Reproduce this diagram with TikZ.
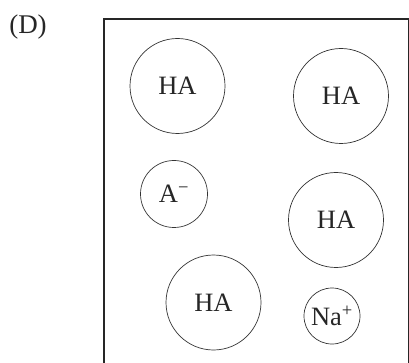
\documentclass[tikz,border=0pt]{standalone}
\usepackage{fontspec}
\setmainfont{Liberation Serif}

\begin{document}
\begin{tikzpicture}[x=1pt, y=-1pt,
  mol/.style={circle, draw=black!80, line width=0.7pt, inner sep=0pt, text=black!85,
    font=\fontsize{26.5}{30}\selectfont}]
  \useasboundingbox (0,0) rectangle (409,363);
  \node[font=\fontsize{27}{30}\selectfont, text=black!85] (label) at (28,27) {(D)};
  \draw[black!85, line width=2.5pt] (104,19) rectangle (409.5,364);
  \node[mol, minimum size=95pt] (HA1) at (177.5,86) {HA};
  \node[mol, minimum size=95pt] (HA2) at (341,96) {HA};
  \node[mol, minimum size=67pt] (A) at (174,194) {A\textsuperscript{\char"2212}};
  \node[mol, minimum size=95pt] (HA3) at (336,220) {HA};
  \node[mol, minimum size=95pt] (HA4) at (213.5,302.5) {HA};
  \node[mol, minimum size=56pt] (Na) at (332,316) {Na\textsuperscript{+}};
\end{tikzpicture}
\end{document}
